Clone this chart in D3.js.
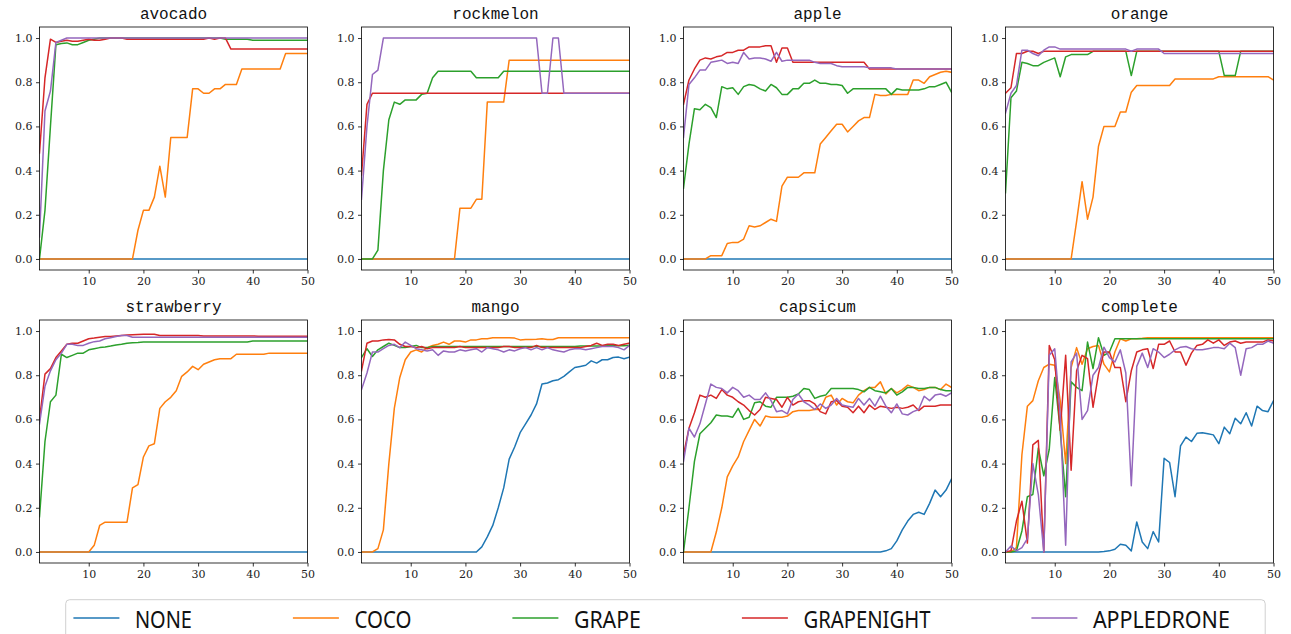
<!DOCTYPE html>
<html><head><meta charset="utf-8">
<script src="https://cdn.jsdelivr.net/npm/d3@7"></script>
<style>
html,body{margin:0;padding:0;background:#fff;}
svg{display:block;}
</style></head>
<body>
<svg id="chart" width="1291" height="634"></svg>
<script>
// ---------- data ----------
const seriesNames = ["NONE", "COCO", "GRAPE", "GRAPENIGHT", "APPLEDRONE"];
const categories = ["avocado", "rockmelon", "apple", "orange", "strawberry", "mango", "capsicum", "complete"];
const xTicks = [10, 20, 30, 40, 50];
const yTicks = [0.0, 0.2, 0.4, 0.6, 0.8, 1.0];
const epochs = [1,2,3,4,5,6,7,8,9,10,11,12,13,14,15,16,17,18,19,20,21,22,23,24,25,26,27,28,29,30,31,32,33,34,35,36,37,38,39,40,41,42,43,44,45,46,47,48,49,50];

const zeros50 = [0,0,0,0,0,0,0,0,0,0, 0,0,0,0,0,0,0,0,0,0, 0,0,0,0,0,0,0,0,0,0, 0,0,0,0,0,0,0,0,0,0, 0,0,0,0,0,0,0,0,0,0];

const avocado = [
  zeros50,
  [0,0,0,0,0,0,0,0,0,0, 0,0,0,0,0,0,0,0,0.13,0.22, 0.22,0.28,0.42,0.28,0.55,0.55,0.55,0.55,0.77,0.77, 0.75,0.75,0.77,0.77,0.79,0.79,0.79,0.86,0.86,0.86, 0.86,0.86,0.86,0.86,0.86,0.93,0.93,0.93,0.93,0.93],
  [0.0,0.22,0.6,0.97,0.975,0.978,0.97,0.97,0.98,0.99, 0.995,1.0,1.0,1.0,1.0,1.0,1.0,1.0,1.0,1.0, 1.0,1.0,1.0,1.0,1.0,1.0,1.0,1.0,1.0,1.0, 1.0,1.0,1.0,1.0,0.995,0.995,0.995,0.995,0.995,0.99, 0.99,0.99,0.99,0.99,0.99,0.99,0.99,0.99,0.99,0.99],
  [0.48,0.82,0.995,0.98,0.985,0.99,0.985,0.985,0.99,0.995, 0.99,0.99,0.995,1.0,1.0,1.0,0.995,0.995,0.995,0.995, 0.995,0.995,0.995,0.995,0.995,0.995,0.995,0.995,0.995,0.995, 0.995,1.0,0.995,1.0,1.0,0.95,0.95,0.95,0.95,0.95, 0.95,0.95,0.95,0.95,0.95,0.95,0.95,0.95,0.95,0.95],
  [0.1,0.67,0.76,0.98,0.99,1.0,1.0,1.0,1.0,1.0, 1.0,1.0,1.0,1.0,1.0,1.0,1.0,1.0,1.0,1.0, 1.0,1.0,1.0,1.0,1.0,1.0,1.0,1.0,1.0,1.0, 1.0,1.0,1.0,1.0,1.0,1.0,1.0,1.0,1.0,1.0, 1.0,1.0,1.0,1.0,1.0,1.0,1.0,1.0,1.0,1.0]
];

const rockmelon = [
  zeros50,
  [0,0,0,0,0,0,0,0,0,0, 0,0,0,0,0,0,0,0,0.23,0.23, 0.23,0.27,0.27,0.71,0.71,0.71,0.71,0.9,0.9,0.9, 0.9,0.9,0.9,0.9,0.9,0.9,0.9,0.9,0.9,0.9, 0.9,0.9,0.9,0.9,0.9,0.9,0.9,0.9,0.9,0.9],
  [0,0,0,0.04,0.4,0.63,0.71,0.70,0.72,0.72, 0.72,0.745,0.75,0.82,0.85,0.85,0.85,0.85,0.85,0.85, 0.85,0.82,0.82,0.82,0.82,0.82,0.85,0.85,0.85,0.85, 0.85,0.85,0.85,0.85,0.85,0.85,0.85,0.85,0.85,0.85, 0.85,0.85,0.85,0.85,0.85,0.85,0.85,0.85,0.85,0.85],
  [0.38,0.70,0.75,0.75,0.75,0.75,0.75,0.75,0.75,0.75, 0.75,0.75,0.75,0.75,0.75,0.75,0.75,0.75,0.75,0.75, 0.75,0.75,0.75,0.75,0.75,0.75,0.75,0.75,0.75,0.75, 0.75,0.75,0.75,0.75,0.75,0.75,0.75,0.75,0.75,0.75, 0.75,0.75,0.75,0.75,0.75,0.75,0.75,0.75,0.75,0.75],
  [0.27,0.6,0.835,0.855,1.0,1.0,1.0,1.0,1.0,1.0, 1.0,1.0,1.0,1.0,1.0,1.0,1.0,1.0,1.0,1.0, 1.0,1.0,1.0,1.0,1.0,1.0,1.0,1.0,1.0,1.0, 1.0,1.0,1.0,0.75,0.75,1.0,1.0,0.75,0.75,0.75, 0.75,0.75,0.75,0.75,0.75,0.75,0.75,0.75,0.75,0.75]
];

const apple = [
  zeros50,
  [0,0,0,0,0,0.015,0.015,0.015,0.07,0.075, 0.075,0.09,0.15,0.145,0.15,0.165,0.18,0.17,0.33,0.37, 0.37,0.37,0.39,0.39,0.39,0.52,0.55,0.58,0.61,0.61, 0.575,0.60,0.625,0.64,0.64,0.745,0.74,0.74,0.745,0.745, 0.745,0.745,0.81,0.81,0.795,0.825,0.835,0.845,0.85,0.845],
  [0.32,0.52,0.68,0.675,0.70,0.685,0.64,0.78,0.77,0.775, 0.745,0.78,0.79,0.785,0.77,0.76,0.79,0.775,0.745,0.745, 0.77,0.77,0.795,0.795,0.81,0.795,0.795,0.79,0.79,0.785, 0.75,0.77,0.77,0.77,0.77,0.77,0.77,0.77,0.745,0.77, 0.765,0.765,0.765,0.765,0.77,0.78,0.78,0.79,0.80,0.755],
  [0.70,0.81,0.86,0.90,0.91,0.905,0.915,0.92,0.935,0.935, 0.945,0.945,0.96,0.96,0.96,0.965,0.965,0.89,0.955,0.955, 0.89,0.89,0.89,0.89,0.89,0.89,0.89,0.89,0.89,0.89, 0.89,0.89,0.89,0.89,0.86,0.86,0.86,0.86,0.86,0.86, 0.86,0.86,0.86,0.86,0.86,0.86,0.86,0.86,0.86,0.86],
  [0.55,0.79,0.82,0.855,0.855,0.89,0.895,0.90,0.885,0.89, 0.885,0.935,0.905,0.91,0.91,0.905,0.895,0.935,0.895,0.90, 0.90,0.90,0.90,0.90,0.89,0.885,0.885,0.885,0.875,0.87, 0.87,0.87,0.87,0.87,0.865,0.865,0.865,0.865,0.865,0.86, 0.86,0.86,0.86,0.86,0.86,0.86,0.86,0.86,0.86,0.86]
];

const orange = [
  zeros50,
  [0,0,0,0,0,0,0,0,0,0, 0,0,0,0.17,0.35,0.18,0.28,0.51,0.60,0.60, 0.60,0.665,0.665,0.755,0.785,0.785,0.785,0.785,0.785,0.785, 0.785,0.815,0.815,0.815,0.815,0.815,0.815,0.815,0.815,0.825, 0.825,0.825,0.825,0.825,0.825,0.825,0.825,0.825,0.825,0.81],
  [0.3,0.73,0.76,0.89,0.885,0.875,0.875,0.89,0.90,0.91, 0.825,0.915,0.925,0.925,0.925,0.925,0.94,0.94,0.94,0.94, 0.94,0.94,0.94,0.83,0.94,0.94,0.94,0.94,0.94,0.94, 0.94,0.94,0.94,0.94,0.94,0.94,0.94,0.94,0.94,0.94, 0.83,0.83,0.83,0.94,0.94,0.94,0.94,0.94,0.94,0.94],
  [0.75,0.775,0.93,0.93,0.94,0.94,0.93,0.94,0.94,0.94, 0.94,0.94,0.94,0.94,0.94,0.94,0.94,0.94,0.94,0.94, 0.94,0.94,0.94,0.94,0.94,0.94,0.94,0.94,0.94,0.94, 0.94,0.94,0.94,0.94,0.94,0.94,0.94,0.94,0.94,0.94, 0.94,0.94,0.94,0.94,0.94,0.94,0.94,0.94,0.94,0.94],
  [0.66,0.75,0.785,0.945,0.945,0.93,0.92,0.945,0.96,0.96, 0.95,0.95,0.95,0.95,0.95,0.95,0.95,0.95,0.95,0.95, 0.95,0.95,0.95,0.94,0.95,0.95,0.95,0.95,0.95,0.93, 0.93,0.93,0.93,0.93,0.93,0.93,0.93,0.93,0.93,0.93, 0.93,0.93,0.93,0.93,0.93,0.93,0.93,0.93,0.93,0.93]
];

const strawberry = [
  zeros50,
  [0,0,0,0,0,0,0,0,0,0, 0.03,0.12,0.135,0.135,0.135,0.135,0.135,0.29,0.305,0.43, 0.48,0.49,0.65,0.68,0.70,0.73,0.795,0.815,0.84,0.825, 0.85,0.86,0.87,0.875,0.875,0.875,0.895,0.895,0.895,0.895, 0.895,0.895,0.90,0.90,0.90,0.90,0.90,0.90,0.90,0.90],
  [0.16,0.5,0.68,0.71,0.895,0.88,0.89,0.90,0.90,0.915, 0.92,0.925,0.928,0.932,0.937,0.94,0.945,0.947,0.948,0.95, 0.95,0.95,0.95,0.95,0.95,0.95,0.95,0.95,0.95,0.95, 0.95,0.95,0.95,0.95,0.95,0.95,0.95,0.95,0.95,0.955, 0.955,0.955,0.955,0.955,0.955,0.955,0.955,0.955,0.955,0.955],
  [0.6,0.805,0.83,0.88,0.91,0.94,0.945,0.945,0.955,0.965, 0.968,0.972,0.975,0.975,0.978,0.98,0.982,0.983,0.984,0.985, 0.985,0.985,0.98,0.98,0.98,0.98,0.98,0.98,0.98,0.98, 0.978,0.978,0.978,0.978,0.978,0.978,0.978,0.978,0.978,0.978, 0.977,0.977,0.977,0.977,0.977,0.977,0.977,0.977,0.977,0.977],
  [0.58,0.75,0.82,0.87,0.90,0.94,0.94,0.935,0.935,0.945, 0.952,0.955,0.965,0.97,0.975,0.98,0.98,0.972,0.972,0.972, 0.972,0.972,0.972,0.972,0.972,0.972,0.972,0.972,0.972,0.972, 0.972,0.972,0.972,0.972,0.972,0.972,0.972,0.972,0.972,0.972, 0.972,0.972,0.972,0.972,0.972,0.972,0.972,0.972,0.972,0.972]
];

const mango = [
  [0,0,0,0,0,0,0,0,0,0, 0,0,0,0,0,0,0,0,0,0, 0,0,0.023,0.068,0.12,0.2,0.29,0.42,0.475,0.54, 0.58,0.62,0.67,0.76,0.765,0.775,0.78,0.795,0.815,0.835, 0.84,0.845,0.865,0.855,0.87,0.87,0.88,0.882,0.875,0.882],
  [0,0,0,0.015,0.1,0.4,0.65,0.79,0.87,0.905, 0.915,0.905,0.925,0.935,0.94,0.95,0.94,0.955,0.955,0.95, 0.96,0.96,0.965,0.965,0.97,0.97,0.97,0.97,0.968,0.96, 0.962,0.962,0.963,0.965,0.962,0.962,0.97,0.97,0.97,0.97, 0.97,0.97,0.97,0.97,0.97,0.97,0.97,0.97,0.97,0.97],
  [0.88,0.92,0.885,0.915,0.93,0.945,0.935,0.925,0.925,0.93, 0.935,0.925,0.925,0.93,0.93,0.93,0.93,0.93,0.93,0.93, 0.93,0.93,0.93,0.93,0.93,0.93,0.93,0.93,0.93,0.93, 0.93,0.93,0.93,0.93,0.93,0.93,0.93,0.93,0.93,0.93, 0.932,0.932,0.932,0.932,0.932,0.933,0.933,0.933,0.933,0.935],
  [0.82,0.945,0.955,0.955,0.96,0.962,0.96,0.94,0.93,0.93, 0.925,0.93,0.92,0.925,0.925,0.925,0.925,0.925,0.93,0.925, 0.925,0.925,0.925,0.925,0.925,0.925,0.93,0.93,0.925,0.925, 0.925,0.925,0.935,0.925,0.925,0.925,0.925,0.925,0.925,0.925, 0.925,0.93,0.935,0.945,0.935,0.94,0.94,0.935,0.94,0.945],
  [0.735,0.81,0.905,0.905,0.92,0.935,0.94,0.925,0.95,0.935, 0.92,0.915,0.91,0.915,0.89,0.91,0.905,0.905,0.915,0.91, 0.915,0.92,0.905,0.925,0.92,0.915,0.905,0.915,0.91,0.92, 0.925,0.915,0.925,0.915,0.925,0.915,0.91,0.905,0.915,0.92, 0.92,0.915,0.92,0.925,0.93,0.93,0.93,0.925,0.915,0.935]
];

const capsicum = [
  [0,0,0,0,0,0,0,0,0,0, 0,0,0,0,0,0,0,0,0,0, 0,0,0,0,0,0,0,0,0,0, 0,0,0,0,0,0,0,0.005,0.015,0.05, 0.10,0.14,0.17,0.18,0.17,0.22,0.28,0.25,0.28,0.33],
  [0,0,0,0,0,0,0.09,0.2,0.34,0.39, 0.43,0.5,0.55,0.6,0.57,0.615,0.61,0.61,0.61,0.615, 0.635,0.64,0.64,0.64,0.645,0.645,0.70,0.71,0.665,0.695, 0.68,0.675,0.71,0.73,0.745,0.745,0.77,0.715,0.74,0.72, 0.735,0.755,0.745,0.73,0.735,0.745,0.745,0.735,0.76,0.745],
  [0.0,0.2,0.41,0.535,0.56,0.585,0.62,0.615,0.615,0.61, 0.65,0.60,0.61,0.675,0.68,0.66,0.655,0.70,0.70,0.70, 0.705,0.715,0.74,0.735,0.695,0.705,0.71,0.74,0.74,0.74, 0.74,0.74,0.735,0.725,0.745,0.73,0.725,0.72,0.74,0.71, 0.725,0.745,0.745,0.74,0.74,0.745,0.745,0.735,0.73,0.73],
  [0.44,0.56,0.63,0.71,0.70,0.71,0.695,0.735,0.71,0.70, 0.68,0.665,0.64,0.62,0.645,0.70,0.695,0.69,0.655,0.70, 0.665,0.68,0.685,0.685,0.67,0.635,0.625,0.68,0.685,0.66, 0.655,0.63,0.66,0.63,0.665,0.645,0.66,0.655,0.65,0.655, 0.65,0.655,0.665,0.64,0.66,0.66,0.66,0.665,0.665,0.665],
  [0.41,0.56,0.52,0.58,0.67,0.76,0.745,0.74,0.72,0.745, 0.73,0.70,0.71,0.69,0.69,0.72,0.685,0.635,0.64,0.625, 0.69,0.715,0.68,0.665,0.645,0.67,0.65,0.665,0.695,0.665, 0.66,0.655,0.695,0.665,0.695,0.66,0.705,0.66,0.63,0.67, 0.625,0.62,0.635,0.645,0.705,0.685,0.71,0.715,0.705,0.72]
];

const complete = [
  [0,0,0,0,0,0,0,0,0,0, 0,0,0,0,0,0,0,0,0.002,0.005, 0.012,0.035,0.03,0.005,0.136,0.045,0.015,0.092,0.045,0.424, 0.405,0.25,0.48,0.52,0.50,0.537,0.54,0.535,0.53,0.49, 0.565,0.535,0.605,0.58,0.63,0.57,0.66,0.64,0.635,0.685],
  [0,0,0.02,0.44,0.66,0.685,0.775,0.835,0.85,0.845, 0.685,0.40,0.835,0.925,0.85,0.92,0.93,0.935,0.85,0.815, 0.905,0.965,0.955,0.965,0.965,0.967,0.97,0.97,0.97,0.97, 0.97,0.97,0.97,0.97,0.97,0.97,0.97,0.97,0.97,0.97, 0.97,0.97,0.97,0.97,0.97,0.97,0.97,0.97,0.97,0.97],
  [0,0,0.005,0.095,0.25,0.26,0.47,0.345,0.465,0.79, 0.55,0.25,0.77,0.745,0.73,0.95,0.83,0.97,0.89,0.905, 0.965,0.965,0.965,0.965,0.965,0.965,0.965,0.965,0.965,0.965, 0.965,0.965,0.965,0.965,0.965,0.965,0.965,0.965,0.965,0.965, 0.965,0.965,0.965,0.965,0.965,0.965,0.965,0.965,0.965,0.965],
  [0,0.005,0.14,0.23,0.04,0.485,0.505,0,0.935,0.87, 0.55,0.89,0.37,0.82,0.89,0.875,0.655,0.805,0.905,0.905, 0.835,0.835,0.68,0.82,0.905,0.915,0.92,0.83,0.94,0.94, 0.955,0.905,0.905,0.845,0.9,0.935,0.94,0.96,0.945,0.96, 0.935,0.95,0.955,0.945,0.95,0.95,0.95,0.95,0.96,0.955],
  [0,0.027,0.005,0.02,0.06,0.40,0.26,0,0.89,0.92, 0.62,0.03,0.86,0.9,0.6,0.64,0.8,0.835,0.927,0.88, 0.86,0.915,0.81,0.30,0.84,0.9,0.835,0.92,0.905,0.88, 0.895,0.915,0.927,0.93,0.92,0.915,0.915,0.92,0.925,0.925, 0.92,0.945,0.925,0.80,0.92,0.925,0.94,0.94,0.955,0.945]
];

const panelData = [avocado, rockmelon, apple, orange, strawberry, mango, capsicum, complete];
const colors = ["#1f77b4", "#ff7f0e", "#2ca02c", "#d62728", "#9467bd"];

// ---------- layout ----------
const svg = d3.select("#chart");
const colLeft = [39.5, 361.5, 683.5, 1005.5];
const rowTop = [27, 320];
const pw = 268, ph = 243;

categories.forEach((cat, i) => {
  const left = colLeft[i % 4], top = rowTop[Math.floor(i / 4)];
  const x = d3.scaleLinear().domain([1, 50]).range([0, pw]);
  const y = d3.scaleLinear().domain([-0.05, 1.05]).range([ph, 0]);
  const g = svg.append("g").attr("transform", `translate(${left},${top})`);

  const clipId = "clip" + i;
  g.append("clipPath").attr("id", clipId).append("rect").attr("width", pw).attr("height", ph);

  const line = d3.line().x((d, k) => x(epochs[k])).y(d => y(d));
  const lg = g.append("g").attr("clip-path", `url(#${clipId})`);
  panelData[i].forEach((vals, s) => {
    lg.append("path").datum(vals)
      .attr("d", line)
      .attr("fill", "none")
      .attr("stroke", colors[s])
      .attr("stroke-width", 1.5)
      .attr("stroke-linejoin", "round")
      .attr("stroke-linecap", "square");
  });

  const xa = g.append("g").attr("transform", `translate(0,${ph})`)
    .call(d3.axisBottom(x).tickValues(xTicks).tickFormat(d3.format("d")).tickSize(3.5).tickPadding(3.5).tickSizeOuter(0));
  const ya = g.append("g")
    .call(d3.axisLeft(y).tickValues(yTicks).tickFormat(d3.format(".1f")).tickSize(3.5).tickPadding(3.5).tickSizeOuter(0));
  [xa, ya].forEach(a => {
    a.select(".domain").remove();
    a.selectAll(".tick line").attr("stroke", "#000").attr("stroke-width", 0.8);
    a.selectAll(".tick text").attr("fill", "#222").attr("font-family", "'DejaVu Serif', serif").attr("font-size", 11);
  });

  g.append("rect").attr("width", pw).attr("height", ph)
    .attr("fill", "none").attr("stroke", "#000").attr("stroke-width", 0.8);

  g.append("text").attr("x", pw / 2).attr("y", -8.5)
    .attr("text-anchor", "middle")
    .attr("font-family", "'Liberation Mono', 'DejaVu Sans Mono', monospace")
    .attr("font-size", 16).attr("fill", "#111")
    .text(cat);
});

// ---------- legend ----------
const legend = svg.append("g");
legend.append("rect").attr("x", 65.7).attr("y", 599.7).attr("width", 1199.5).attr("height", 50)
  .attr("rx", 4).attr("fill", "#fff").attr("stroke", "#d0d0d0").attr("stroke-width", 1);
const labelWidths = [57, 57, 67, 127, 137];
let lx = 73.4;
seriesNames.forEach((name, s) => {
  legend.append("line").attr("x1", lx).attr("x2", lx + 46).attr("y1", 618).attr("y2", 618)
    .attr("stroke", colors[s]).attr("stroke-width", 1.5);
  legend.append("text").attr("x", lx + 61.5).attr("y", 628)
    .attr("font-family", "'Noto Sans', sans-serif").attr("font-size", 23).attr("fill", "#111")
    .attr("textLength", labelWidths[s]).attr("lengthAdjust", "spacingAndGlyphs")
    .text(name);
  lx += 61.5 + labelWidths[s] + 101;
});
</script>
</body></html>
